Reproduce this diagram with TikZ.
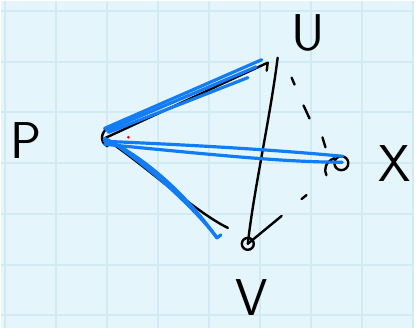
\documentclass[tikz,border=0pt]{standalone}
\usepackage{tikz}
\usetikzlibrary{positioning, calc}

\definecolor{paper}{RGB}{228,245,252}
\definecolor{gridblue}{RGB}{210,234,244}
\definecolor{inkblue}{RGB}{18,124,244}

\tikzset{
  ink/.style={black, line width=2.4pt, line cap=round, line join=round},
  hl/.style={inkblue, line width=3.2pt, line cap=round, line join=round},
  gridline/.style={gridblue, line width=2pt},
  letter/.style={font=\sffamily\fontsize{52}{52}\selectfont, inner sep=0pt}
}

\begin{document}
\begin{tikzpicture}[x=1pt, y=-1pt]
        % Paper
        \fill[paper] (0,0) rectangle (415,329);
        \foreach \i in {0,...,8}
          \draw[gridline] ({3.7+51.3*\i},0) -- ({3.7+51.3*\i},329);
        \foreach \j in {0,...,6}
          \draw[gridline] (0,{10+51*\j}) -- (415,{10+51*\j});
        \useasboundingbox (0,0) rectangle (415,329);

        % Points
        \coordinate (P) at (104,138);
        \coordinate (U) at (268,62);
        \coordinate (Utop) at (278,57);
        \coordinate (X) at (342,163);
        \coordinate (V) at (248,244);

        % Labels
        \node [letter] (labP) at (25,140) {P};
        \node [letter] (labU) at (309,32)  {U};
        \node [letter] (labX) at (396,163) {X};
        \node [letter] (labV) at (252,298) {V};

        % Black edges
        \coordinate (Uhook) at (267,70);
        \coordinate (Vend) at (228,228);
        \coordinate (Vleg) at (282,216);
        \draw[ink] (108,127) .. controls (100,132) and (99,142) .. (107,146);
        \draw[ink] (P) -- (U) -- (Uhook);
        \draw[ink] (Utop) .. controls (270,120) and (254,190) .. (V);
        \draw[ink] (P) .. controls (145,165) and (195,212) .. (Vend);
        \draw[ink] (V) circle (6);
        \draw[ink] (V) -- (Vleg);
        \draw[ink] (X) circle (7);
        \draw[ink] (335,158) .. controls (326,161) and (324,170) .. (327,175);

        % Dashes U--X--V
        \draw[ink] (292,77) -- (295,84);
        \draw[ink] (304,105) -- (310,118);
        \draw[ink] (323,137) -- (326,147);
        \draw[ink] (302,199) -- (307,195);

        % Blue edges
        \coordinate (Ua) at (262,59);
        \coordinate (Ub) at (248,77);
        \coordinate (Xa) at (343,156);
        \coordinate (Xb) at (343,162);
        \coordinate (Va) at (217,238);
        \draw[hl] (P) ++(0,-10) -- (Ua);
        \draw[hl] (P) ++(4,-6) -- (Ub);
        \draw[hl] (P) ++(2,-8) -- ($(Ua)!0.4!(Ub)$);
        \draw[hl] (P) ++(0,3) .. controls (200,145) and (280,150) .. (Xa);
        \draw[hl] (P) ++(0,6) .. controls (200,153) and (280,162) .. (Xb);
        \draw[hl] (P) ++(0,0) .. controls (150,160) and (190,200) .. (Va) -- ++(4,-3);
        \draw[hl] (P) ++(8,4) .. controls (160,175) and (200,215) .. (Va);

        % Red dot
        \fill[red] (128,137) circle (1.5);

      \end{tikzpicture}
\end{document}
